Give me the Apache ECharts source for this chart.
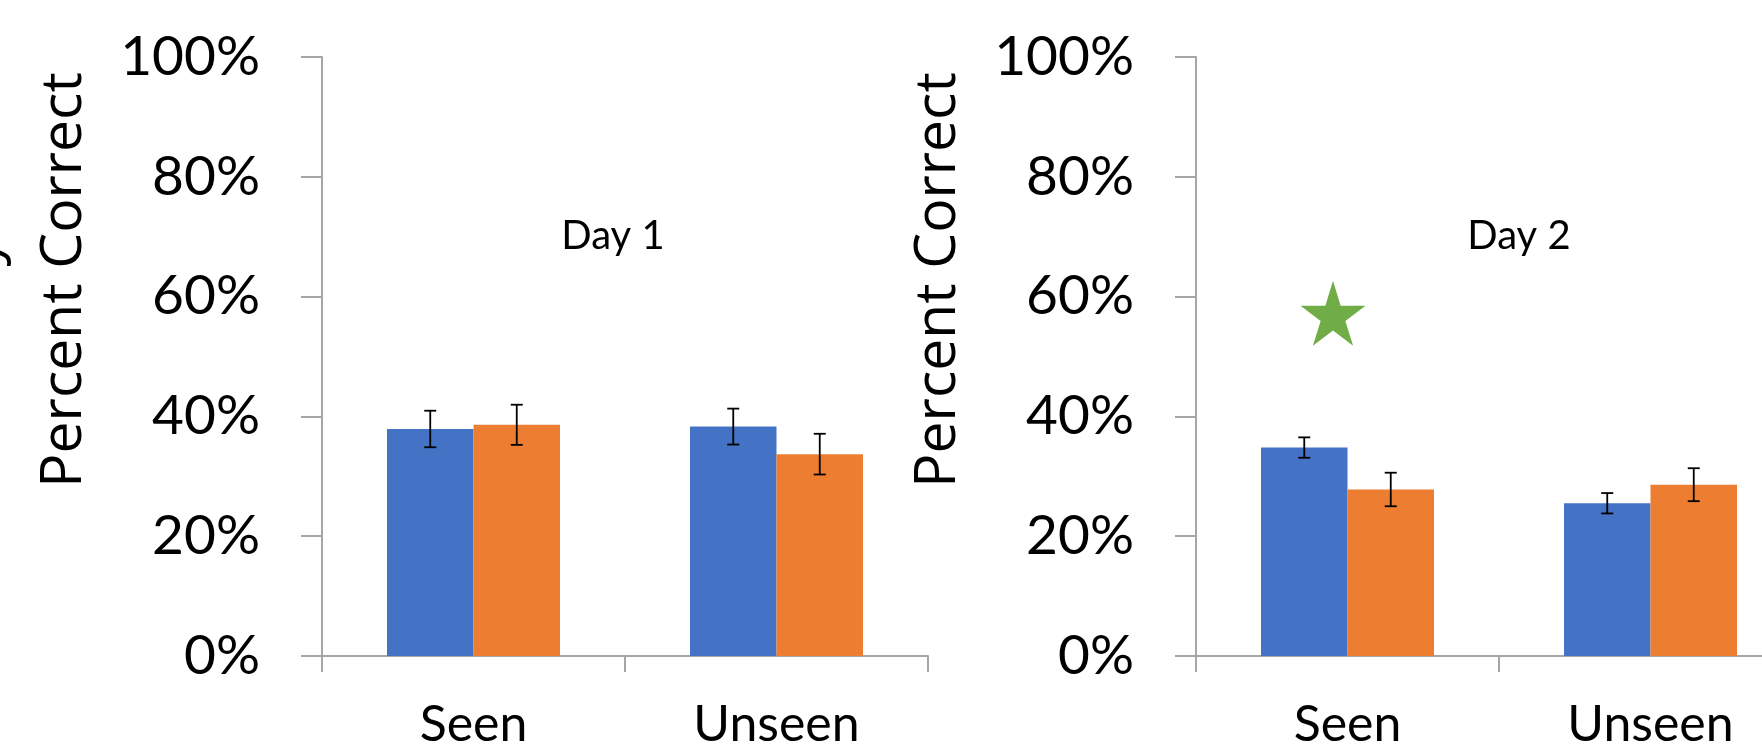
<!DOCTYPE html>
<html>
<head>
<meta charset="utf-8">
<script src="https://cdn.jsdelivr.net/npm/echarts@6/dist/echarts.min.js"></script>
<style>
html, body { margin: 0; padding: 0; background: #fff; overflow: hidden; }
/* the right panel runs past the window edge, as in the source image */
#main { width: 1900px; height: 755px; }
</style>
</head>
<body>
<div id="main"></div>
<script>
// values (percent)
var categories = ['Seen', 'Unseen'];
var yTicks = [0, 20, 40, 60, 80, 100];
var day1Blue = [37.9, 38.3];
var day1BlueErr = [3.05, 3.0];
var day1Orange = [38.6, 33.7];
var day1OrangeErr = [3.35, 3.4];
var day2Blue = [34.8, 25.5];
var day2BlueErr = [1.7, 1.7];
var day2Orange = [27.8, 28.6];
var day2OrangeErr = [2.8, 2.75];
var day2Star = [['Seen', 57.2]];
var panelTitles = ['Day 1', 'Day 2'];
var yName = 'Percent Correct';

var BLUE = '#4472C4', ORANGE = '#ED7D31', GREEN = '#70AD47', AXIS = '#a6a6a6';
var BAR_W = 86.5;
var STAR = 'path://M50,0L61.17,34.63L97.55,34.55L68.07,55.87L79.39,90.45L50,69L20.61,90.45L31.93,55.87L2.45,34.55L38.83,34.63Z';

var myChart = echarts.init(document.getElementById('main'));

function errSeries(idx, vals, errs, offset) {
    var data = vals.map(function (v, i) { return [i, v - errs[i], v + errs[i]]; });
    return {
        type: 'custom',
        xAxisIndex: idx,
        yAxisIndex: idx,
        data: data,
        encode: { x: 0, y: [1, 2] },
        z: 5,
        silent: true,
        renderItem: function (params, api) {
            var lo = api.coord([api.value(0), api.value(1)]);
            var hi = api.coord([api.value(0), api.value(2)]);
            var x = lo[0] + offset;
            var cap = 6;
            var style = { stroke: '#000', lineWidth: 1.8 };
            return {
                type: 'group',
                children: [
                    { type: 'line', shape: { x1: x, y1: lo[1], x2: x, y2: hi[1] }, style: style },
                    { type: 'line', shape: { x1: x - cap, y1: lo[1], x2: x + cap, y2: lo[1] }, style: style },
                    { type: 'line', shape: { x1: x - cap, y1: hi[1], x2: x + cap, y2: hi[1] }, style: style }
                ]
            };
        }
    };
}

function xAxis(idx) {
    return {
        type: 'category',
        gridIndex: idx,
        data: categories,
        boundaryGap: true,
        axisLine: { lineStyle: { color: AXIS, width: 2 } },
        axisTick: { show: true, length: 16, lineStyle: { color: AXIS, width: 2 } },
        axisLabel: { fontFamily: 'Lato', fontSize: 50, color: '#000', margin: 44 }
    };
}

function yAxis(idx) {
    return {
        type: 'value',
        gridIndex: idx,
        min: yTicks[0],
        max: yTicks[yTicks.length - 1],
        interval: yTicks[1] - yTicks[0],
        axisLine: { show: true, lineStyle: { color: AXIS, width: 2 } },
        axisTick: { show: true, length: 21, lineStyle: { color: AXIS, width: 2 } },
        splitLine: { show: false },
        axisLabel: { fontFamily: 'Lato', fontSize: 55, color: '#000', margin: 62, formatter: '{value}%' }
    };
}

function yTitle(x) {
    return {
        type: 'text', x: x, y: 280, rotation: Math.PI / 2,
        style: { text: yName, fontFamily: 'Open Sans', fontSize: 57, fill: '#000',
                 textAlign: 'center', textVerticalAlign: 'middle' }
    };
}

function panelTitle(x, text) {
    return {
        type: 'text', x: x, y: 236,
        style: { text: text, fontFamily: 'Lato', fontSize: 40, fill: '#000',
                 textAlign: 'center', textVerticalAlign: 'middle' }
    };
}

var option = {
    animation: false,
    backgroundColor: '#fff',
    grid: [
        { left: 322, top: 57, width: 606, height: 599 },
        { left: 1196, top: 57, width: 606, height: 599 }
    ],
    xAxis: [xAxis(0), xAxis(1)],
    yAxis: [yAxis(0), yAxis(1)],
    graphic: [
        yTitle(65),
        yTitle(939),
        panelTitle(613, panelTitles[0]),
        panelTitle(1519, panelTitles[1]),
        // tail of a neighbouring panel's axis title, cut off at the left edge
        { type: 'text', x: 9, y: 238, rotation: Math.PI / 2,
          style: { text: 'Accuracy', fontFamily: 'Open Sans', fontSize: 57, fill: '#000', textAlign: 'right', textVerticalAlign: 'bottom' } }
    ],
    series: [
        { type: 'bar', xAxisIndex: 0, yAxisIndex: 0, data: day1Blue, barWidth: BAR_W, barGap: '0%', itemStyle: { color: BLUE } },
        { type: 'bar', xAxisIndex: 0, yAxisIndex: 0, data: day1Orange, barWidth: BAR_W, barGap: '0%', itemStyle: { color: ORANGE } },
        errSeries(0, day1Blue, day1BlueErr, -BAR_W / 2),
        errSeries(0, day1Orange, day1OrangeErr, BAR_W / 2),
        { type: 'bar', xAxisIndex: 1, yAxisIndex: 1, data: day2Blue, barWidth: BAR_W, barGap: '0%', itemStyle: { color: BLUE } },
        { type: 'bar', xAxisIndex: 1, yAxisIndex: 1, data: day2Orange, barWidth: BAR_W, barGap: '0%', itemStyle: { color: ORANGE } },
        errSeries(1, day2Blue, day2BlueErr, -BAR_W / 2),
        errSeries(1, day2Orange, day2OrangeErr, BAR_W / 2),
        { type: 'scatter', xAxisIndex: 1, yAxisIndex: 1, data: day2Star, symbol: STAR,
          symbolSize: [65, 65], symbolOffset: [-14.5, 0], itemStyle: { color: GREEN, opacity: 1 }, z: 6 }
    ]
};
myChart.setOption(option);
</script>
</body>
</html>
